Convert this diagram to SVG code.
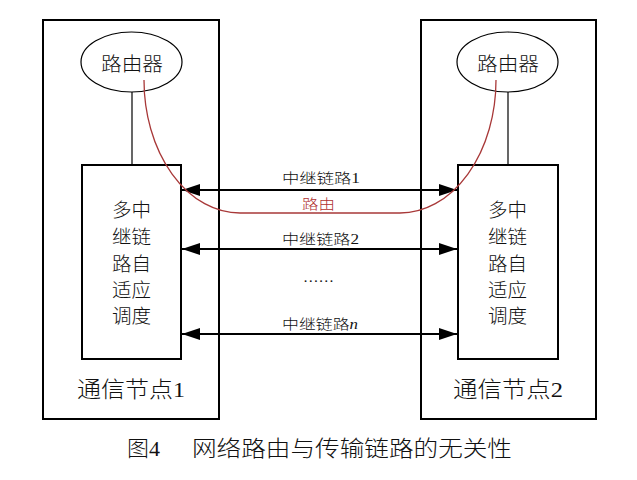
<svg xmlns="http://www.w3.org/2000/svg" width="637" height="480" viewBox="0 0 637 480">
<style>
.box{fill:none;stroke:#000;stroke-width:2}
.thin{fill:none;stroke:#000;stroke-width:1.2}
.t{font-family:"Liberation Serif","Noto Sans CJK SC",serif;fill:#111;font-weight:300}
.lbl{font-size:14px}
.big{font-size:19px}
.cap{font-size:22px}
.link{stroke:#000;stroke-width:2;fill:none}
.route{fill:none;stroke:#a83838;stroke-width:1.3}
</style>
<defs>
<marker id="ah" markerUnits="userSpaceOnUse" markerWidth="18" markerHeight="12" refX="18" refY="6" orient="auto-start-reverse">
<path d="M0,0 L18,6 L0,12 Z" fill="#000"/>
</marker>
</defs>
<rect width="637" height="480" fill="#fff"/>
<g id="node1">
<rect class="box" x="43" y="20" width="176" height="399"/>
<text class="t cap" x="77" y="397" textLength="108" lengthAdjust="spacingAndGlyphs">通信节点1</text>
</g>
<g id="node2">
<rect class="box" x="421" y="20" width="175" height="399"/>
<text class="t cap" x="453" y="397" textLength="110" lengthAdjust="spacingAndGlyphs">通信节点2</text>
</g>
<g id="router1">
<ellipse class="thin" cx="131.5" cy="62" rx="50.5" ry="30"/>
<text class="t big" x="101" y="71" textLength="62" lengthAdjust="spacingAndGlyphs">路由器</text>
</g>
<g id="router2">
<ellipse class="thin" cx="507.5" cy="62" rx="50.5" ry="30"/>
<text class="t big" x="477" y="71" textLength="62" lengthAdjust="spacingAndGlyphs">路由器</text>
</g>
<g id="sched1">
<rect class="box" x="82" y="165" width="99" height="194"/>
<g class="t big">
<text x="112" y="217" textLength="39" lengthAdjust="spacingAndGlyphs">多中</text>
<text x="112" y="244" textLength="39" lengthAdjust="spacingAndGlyphs">继链</text>
<text x="112" y="271" textLength="39" lengthAdjust="spacingAndGlyphs">路自</text>
<text x="112" y="297" textLength="39" lengthAdjust="spacingAndGlyphs">适应</text>
<text x="112" y="323" textLength="39" lengthAdjust="spacingAndGlyphs">调度</text>
</g>
</g>
<g id="sched2">
<rect class="box" x="458" y="165" width="100" height="194"/>
<g class="t big">
<text x="488" y="217" textLength="39" lengthAdjust="spacingAndGlyphs">多中</text>
<text x="488" y="244" textLength="39" lengthAdjust="spacingAndGlyphs">继链</text>
<text x="488" y="271" textLength="39" lengthAdjust="spacingAndGlyphs">路自</text>
<text x="488" y="297" textLength="39" lengthAdjust="spacingAndGlyphs">适应</text>
<text x="488" y="323" textLength="39" lengthAdjust="spacingAndGlyphs">调度</text>
</g>
</g>
<g id="connectors">
<line class="thin" x1="132" y1="92" x2="132" y2="165" stroke-width="1"/>
<line class="thin" x1="508" y1="92" x2="508" y2="165" stroke-width="1"/>
<line class="link" x1="182" y1="190" x2="457" y2="190" marker-start="url(#ah)" marker-end="url(#ah)"/>
<line class="link" x1="182" y1="249" x2="457" y2="249" marker-start="url(#ah)" marker-end="url(#ah)"/>
<line class="link" x1="182" y1="334" x2="457" y2="334" marker-start="url(#ah)" marker-end="url(#ah)"/>
<path class="route" d="M144,80 A96,133 0 0 0 240,213 L400,213 A96,133 0 0 0 496,80"/>
<text class="t lbl" x="282" y="183" textLength="78" lengthAdjust="spacingAndGlyphs">中继链路1</text>
<text class="t lbl" x="302" y="209" textLength="33" lengthAdjust="spacingAndGlyphs" style="fill:#b03030">路由</text>
<text class="t lbl" x="282" y="244" textLength="77" lengthAdjust="spacingAndGlyphs">中继链路2</text>
<text class="t lbl" x="303" y="282" textLength="31" lengthAdjust="spacingAndGlyphs">……</text>
<text class="t lbl" x="282" y="329" textLength="76" lengthAdjust="spacingAndGlyphs">中继链路<tspan font-style="italic">n</tspan></text>
</g>
<g id="caption">
<text class="t cap" x="127" y="456" textLength="33" lengthAdjust="spacingAndGlyphs">图4</text>
<text class="t cap" x="192" y="456" textLength="320" lengthAdjust="spacingAndGlyphs">网络路由与传输链路的无关性</text>
</g>
</svg>
